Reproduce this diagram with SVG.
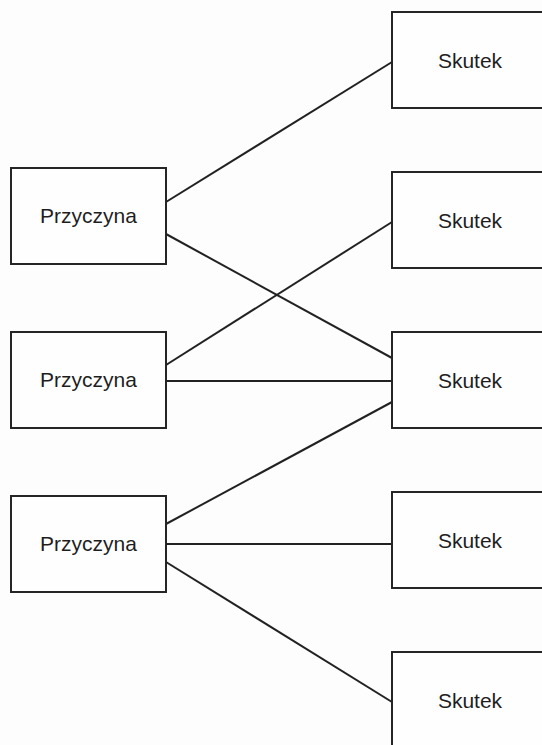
<svg xmlns="http://www.w3.org/2000/svg" width="542" height="745" viewBox="0 0 542 745">
<style>
.box{fill:#fefefe;stroke:#252525;stroke-width:2}
.t{font-family:"Liberation Sans",Arial,sans-serif;font-size:21px;fill:#1e1e1e;text-anchor:middle}
.c line{stroke:#222;stroke-width:2}
</style>
<rect width="542" height="745" fill="#fdfdfd"/>
<g id="connectors" class="c">
<line x1="166" y1="202" x2="392" y2="62"/>
<line x1="166" y1="234" x2="392" y2="358"/>
<line x1="166" y1="365" x2="392" y2="222"/>
<line x1="166" y1="381" x2="392" y2="381"/>
<line x1="166" y1="524" x2="392" y2="402"/>
<line x1="166" y1="544" x2="392" y2="544"/>
<line x1="166" y1="562" x2="392" y2="702"/>
</g>
<g id="p1"><rect class="box" x="11" y="168" width="155" height="96"/><text class="t" x="88.5" y="223">Przyczyna</text></g>
<g id="p2"><rect class="box" x="11" y="332" width="155" height="96"/><text class="t" x="88.5" y="387">Przyczyna</text></g>
<g id="p3"><rect class="box" x="11" y="496" width="155" height="96"/><text class="t" x="88.5" y="551">Przyczyna</text></g>
<g id="s1"><rect class="box" x="392" y="12" width="160" height="96"/><text class="t" x="470" y="68">Skutek</text></g>
<g id="s2"><rect class="box" x="392" y="172" width="160" height="96"/><text class="t" x="470" y="228">Skutek</text></g>
<g id="s3"><rect class="box" x="392" y="332" width="160" height="96"/><text class="t" x="470" y="388">Skutek</text></g>
<g id="s4"><rect class="box" x="392" y="492" width="160" height="96"/><text class="t" x="470" y="548">Skutek</text></g>
<g id="s5"><rect class="box" x="392" y="652" width="160" height="96"/><text class="t" x="470" y="708">Skutek</text></g>
</svg>
